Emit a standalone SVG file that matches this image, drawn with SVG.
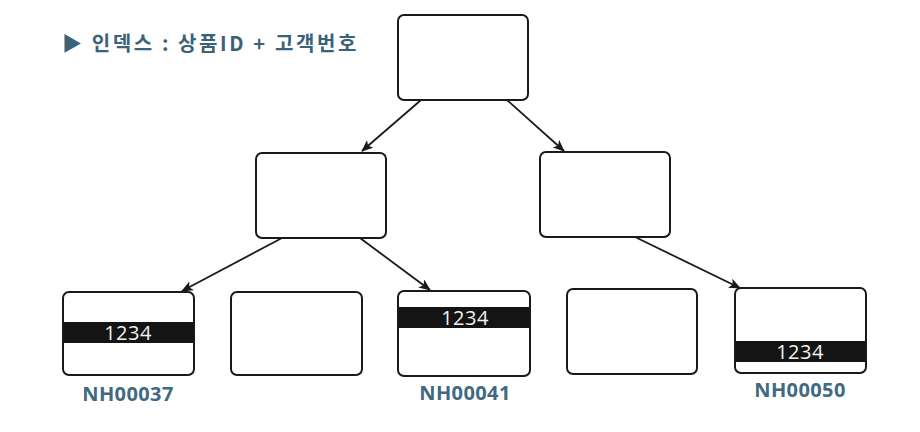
<svg xmlns="http://www.w3.org/2000/svg" width="920" height="432" viewBox="0 0 920 432">
<defs>
<style>
.box{fill:#fff;stroke:#1a1a1a;stroke-width:2}
.band{fill:#141414}
.num{font-family:"Open Sans","Liberation Sans",sans-serif;font-size:20px;fill:#f2f2f2;text-anchor:middle;letter-spacing:0.5px}
.lbl{font-family:"Open Sans","Liberation Sans",sans-serif;font-weight:bold;font-size:20px;fill:#3f6a82;text-anchor:middle;letter-spacing:0.4px}
.title{font-family:"Noto Sans CJK KR","Noto Sans",sans-serif;font-weight:bold;font-size:20px;fill:#3a6279;letter-spacing:2.6px}
.edge{stroke:#1a1a1a;stroke-width:1.8;fill:none;marker-end:url(#ah)}
</style>
<marker id="ah" viewBox="0 0 12 10" refX="11" refY="5" markerWidth="12" markerHeight="10" markerUnits="userSpaceOnUse" orient="auto">
<path d="M0,0 L12,5 L0,10 L3,5 Z" fill="#1a1a1a"/>
</marker>
</defs>
<text class="title" x="62" y="51">▶ 인덱스 : 상품ID + 고객번호</text>
<g id="edges">
<line class="edge" x1="421" y1="100" x2="362" y2="151"/>
<line class="edge" x1="507" y1="100" x2="564" y2="151"/>
<line class="edge" x1="282" y1="238" x2="182" y2="291"/>
<line class="edge" x1="360" y1="238" x2="430" y2="290"/>
<line class="edge" x1="633" y1="236" x2="740" y2="288"/>
</g>
<g id="root"><rect class="box" x="398" y="15" width="130" height="85" rx="6"/></g>
<g id="midLeft"><rect class="box" x="256" y="153" width="130" height="85" rx="6"/></g>
<g id="midRight"><rect class="box" x="540" y="152" width="130" height="85" rx="6"/></g>
<g id="leaf1">
<rect class="box" x="63" y="292" width="131" height="83" rx="6"/>
<rect class="band" x="64" y="322" width="129" height="21"/>
<text class="num" x="128" y="340">1234</text>
<text class="lbl" x="128" y="401">NH00037</text>
</g>
<g id="leaf2"><rect class="box" x="231" y="292" width="131" height="83" rx="6"/></g>
<g id="leaf3">
<rect class="box" x="398" y="291" width="132" height="85" rx="6"/>
<rect class="band" x="399" y="307" width="130" height="21"/>
<text class="num" x="465" y="325">1234</text>
<text class="lbl" x="465" y="400">NH00041</text>
</g>
<g id="leaf4"><rect class="box" x="567" y="289" width="130" height="85" rx="6"/></g>
<g id="leaf5">
<rect class="box" x="735" y="288" width="131" height="85" rx="6"/>
<rect class="band" x="736" y="341" width="129" height="21"/>
<text class="num" x="800" y="359">1234</text>
<text class="lbl" x="800" y="397">NH00050</text>
</g>
</svg>
